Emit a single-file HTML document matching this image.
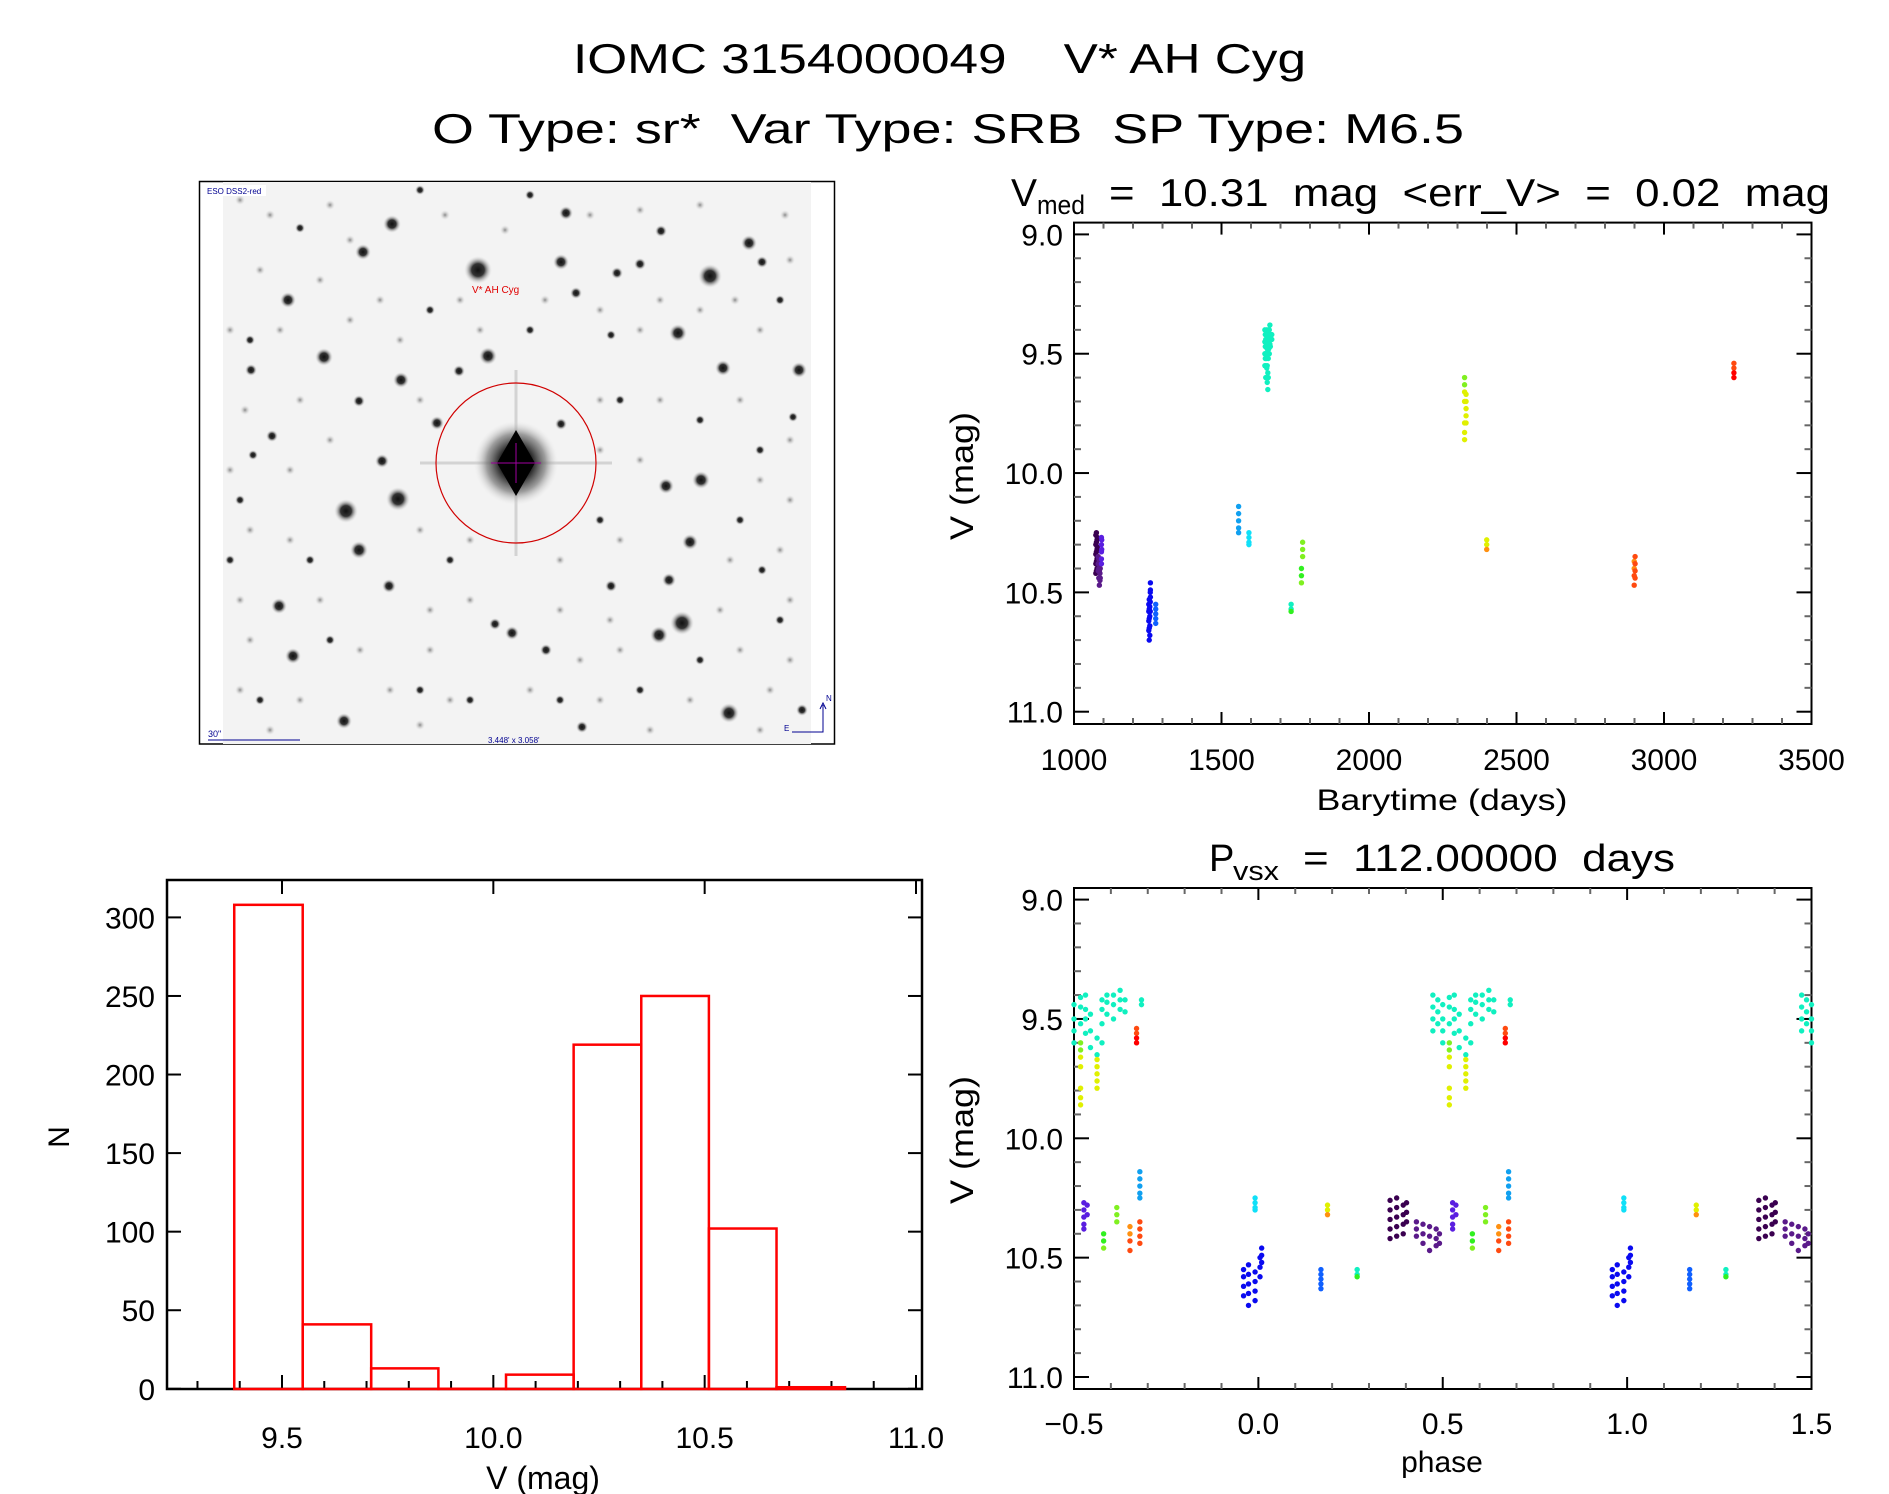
<!DOCTYPE html>
<html><head><meta charset="utf-8"><style>
html,body{margin:0;padding:0;background:#fff;}
svg{display:block;font-family:"Liberation Sans",sans-serif;}
text{white-space:pre;}
</style></head><body>
<svg id="fig" width="1889" height="1494" viewBox="0 0 1889 1494" xmlns="http://www.w3.org/2000/svg" xml:space="preserve">
<defs>
<radialGradient id="star" cx="50%" cy="50%" r="50%"><stop offset="0" stop-color="#111"/><stop offset="0.45" stop-color="#333"/><stop offset="1" stop-color="#ddd" stop-opacity="0"/></radialGradient>
<radialGradient id="faint" cx="50%" cy="50%" r="50%"><stop offset="0" stop-color="#888"/><stop offset="1" stop-color="#ddd" stop-opacity="0"/></radialGradient>
<radialGradient id="bigstar" cx="50%" cy="50%" r="50%"><stop offset="0" stop-color="#000"/><stop offset="0.35" stop-color="#111"/><stop offset="0.7" stop-color="#777" stop-opacity="0.7"/><stop offset="1" stop-color="#ddd" stop-opacity="0"/></radialGradient>
</defs>
<text x="573" y="73" font-size="42" textLength="733" lengthAdjust="spacingAndGlyphs">IOMC 3154000049    V* AH Cyg</text>
<text x="432" y="143" font-size="42" textLength="1032" lengthAdjust="spacingAndGlyphs">O Type: sr*  Var Type: SRB  SP Type: M6.5</text>

<g id="sky">
<rect x="199.5" y="181.5" width="635" height="562.5" fill="#fff" stroke="#000" stroke-width="1.5"/>
<rect x="223" y="182" width="588" height="562" fill="#f3f3f3"/>
</g>

<g id="top"></g>
<g id="bot"></g>
<g id="hist"></g>

<text x="1011" y="206" font-size="39">V</text>
<text x="1037" y="214" font-size="27" textLength="48" lengthAdjust="spacingAndGlyphs">med</text>
<text x="1109" y="206" font-size="39" textLength="721" lengthAdjust="spacingAndGlyphs">=  10.31  mag  &lt;err_V&gt;  =  0.02  mag</text>
<text x="1209" y="871" font-size="38">P</text>
<text x="1233" y="880" font-size="27" textLength="46" lengthAdjust="spacingAndGlyphs">vsx</text>
<text x="1303" y="871" font-size="38" textLength="372" lengthAdjust="spacingAndGlyphs">=  112.00000  days</text>
</svg>
<script>
// ---- Light curve data ----
const clusterColors = ['#3a0050','#5a1a8a','#5a1ee0','#0a0af0','#1060ff','#10a0f0','#10e0f8','#10f0c0','#30f020','#80f020','#e0f000','#ff9010','#ff4a10','#ff0000'];
const obsTime = [1074,1074,1074,1074,1074,1076,1076,1076,1076,1076,1078,1078,1078,1078,1079,1079,1079,
 1082,1082,1082,1084,1084,1084,1086,1086,1086,1088,1088,1088,1089,1089,
 1093,1093,1093,1093,1093,1094,1094,
 1253.5,1253.5,1253.5,1253.5,1255,1255,1255,1255,1255,1257,1257,1257,1257,1258.5,1258.5,1258.5,1259,1259,1259,
 1277,1277,1277,1277,1277,
 1558,1558,1558,1558,1558,
 1593,1593,1593,1593,
 1647,1647,1647,1647,1648.5,1648.5,1648.5,1650,1650,1650,1650,1652,1652,1652,1653.5,1653.5,1653.5,1653.5,1655,1655,1655,1657,1657,1658.5,1658.5,1658.5,1658.5,1660,1660,1660,1662,1662,1662,1664,1664,1664,1665.5,1665.5,1670.5,1670.5,
 1736,1736,1736,
 1771,1771,1771,1775,1775,1775,
 2324,2324,2324,2324,2324,2324,2324,2329,2329,2329,2329,2329,
 2399,2399,2399,
 2899,2899,2899,2899,2902,2902,2902,2902,
 3237,3237,3237,3237];
const obsMag = [10.26,10.30,10.34,10.38,10.42,10.25,10.29,10.33,10.37,10.41,10.28,10.32,10.36,10.40,10.27,10.31,10.35,
 10.35,10.38,10.41,10.36,10.40,10.44,10.37,10.41,10.47,10.38,10.42,10.45,10.40,10.44,
 10.27,10.30,10.33,10.36,10.38,10.28,10.32,
 10.55,10.58,10.62,10.66,10.53,10.57,10.61,10.65,10.70,10.56,10.60,10.64,10.68,10.50,10.54,10.58,10.46,10.49,10.52,
 10.55,10.57,10.59,10.61,10.63,
 10.14,10.17,10.20,10.23,10.25,
 10.25,10.27,10.29,10.30,
 9.40,9.45,9.50,9.55,9.42,9.47,9.52,9.44,9.50,9.55,9.60,9.41,9.45,9.52,9.40,9.46,9.50,9.56,9.48,9.55,9.62,9.58,9.65,9.42,9.46,9.52,9.60,9.40,9.43,9.48,9.40,9.44,9.50,9.38,9.42,9.46,9.42,9.47,9.42,9.44,
 10.55,10.57,10.58,
 10.40,10.43,10.46,10.29,10.32,10.35,
 9.60,9.63,9.66,9.70,9.79,9.83,9.86,9.67,9.70,9.73,9.76,9.79,
 10.28,10.30,10.32,
 10.37,10.40,10.43,10.47,10.35,10.38,10.41,10.44,
 9.54,9.56,9.58,9.60];
const obsCluster = [0,0,0,0,0,0,0,0,0,0,0,0,0,0,0,0,0,
 1,1,1,1,1,1,1,1,1,1,1,1,1,1,
 2,2,2,2,2,2,2,
 3,3,3,3,3,3,3,3,3,3,3,3,3,3,3,3,3,3,3,
 4,4,4,4,4,
 5,5,5,5,5,
 6,6,6,6,
 7,7,7,7,7,7,7,7,7,7,7,7,7,7,7,7,7,7,7,7,7,7,7,7,7,7,7,7,7,7,7,7,7,7,7,7,7,7,7,7,7,7,
 8,8,8,
 9,9,9,9,9,9,
 10,10,10,10,10,10,10,10,10,10,10,10,
 11,11,11,
 12,12,12,12,12,12,12,12,
 13,13,13,13];
const period = 112.0;
const epoch = 1258;
const timeTicks = [1000,1500,2000,2500,3000,3500];
const magTicks = [9.0,9.5,10.0,10.5,11.0];
const phaseTicks = [-0.5,0.0,0.5,1.0,1.5];
// ---- Histogram data ----
const histEdges = [9.387,9.549,9.711,9.870,10.030,10.190,10.350,10.510,10.670,10.832];
const histCounts = [308,41,13,0,9,219,250,102,1];
const histXTicks = [9.5,10.0,10.5,11.0];
const histYTicks = [0,50,100,150,200,250,300];

const NS='http://www.w3.org/2000/svg';
function mk(parent,tag,attrs,txt){const e=document.createElementNS(NS,tag);for(const k in attrs)e.setAttribute(k,attrs[k]);if(txt!==undefined)e.textContent=txt;parent.appendChild(e);return e;}

const L=1074,R=1811.5;
const tx=t=>L+(t-1000)/2500*(R-L);
const ty=m=>234.4+(m-9)/2*(711.7-234.4);
const px=p=>L+(p+0.5)/2*(R-L);
const py=m=>899.6+(m-9)/2*(1377-899.6);
const hx=v=>282+(v-9.5)/1.5*(916-282);
const hy=c=>1388.8-c*(1388.8-917.4)/300;

function frame(g,top,bot,xmin,xmax,xmaj,xmin_step,xf,ymin,ymax,ymin_step,yf,ymaj){
  const r=mk(g,'rect',{x:L,y:top,width:R-L,height:bot-top,fill:'none',stroke:'#000','stroke-width':2});
  
  
  const n=Math.round((xmax-xmin)/xmin_step);
  for(let i=0;i<=n;i++){const v=xmin+i*xmin_step;const X=xf(v);const major=Math.abs((v-xmin)/xmaj-Math.round((v-xmin)/xmaj))<1e-6;const len=major?12:6;
    mk(g,'line',{x1:X,y1:bot,x2:X,y2:bot-len,stroke:major?'#000':'#666','stroke-width':2});
    mk(g,'line',{x1:X,y1:top,x2:X,y2:top+len,stroke:major?'#000':'#666','stroke-width':2});}
  const m=Math.round((ymax-ymin)/ymin_step);
  for(let i=0;i<=m;i++){const v=ymin+i*ymin_step;const Y=yf(v);const major=Math.abs((v-ymin)/ymaj-Math.round((v-ymin)/ymaj))<1e-6;const len=major?15:7;
    mk(g,'line',{x1:L,y1:Y,x2:L+len,y2:Y,stroke:major?'#000':'#666','stroke-width':2});
    mk(g,'line',{x1:R,y1:Y,x2:R-len,y2:Y,stroke:major?'#000':'#666','stroke-width':2});}
}

// ---- Top light curve ----
const gT=document.getElementById('top');
frame(gT,222.6,724,1000,3500,500,100,tx,9,11,0.1,ty,0.5);
timeTicks.forEach(t=>{const e=mk(gT,'text',{x:tx(t),y:770,'font-size':30,'text-anchor':'middle'},String(t));
  
  });
magTicks.forEach(m=>{const e=mk(gT,'text',{x:1063,y:ty(m)+11,'font-size':30,'text-anchor':'end'},m.toFixed(1));
  
  });
let e=mk(gT,'text',{x:1442,y:810,'font-size':30,'text-anchor':'middle',textLength:251,lengthAdjust:'spacingAndGlyphs'},'Barytime (days)');


e=mk(gT,'text',{x:973,y:476,'font-size':32,'text-anchor':'middle',transform:'rotate(-90 973 476)',textLength:128,lengthAdjust:'spacingAndGlyphs'},'V (mag)');


obsTime.forEach((t,i)=>{const c=mk(gT,'circle',{cx:tx(t),cy:ty(obsMag[i]),r:2.7,fill:clusterColors[obsCluster[i]]});
  
  });

// ---- Phase plot ----
const gB=document.getElementById('bot');
frame(gB,888,1389,-0.5,1.5,0.5,0.1,px,9,11,0.1,py,0.5);
phaseTicks.forEach(p=>{const lbl=(p<0?'\u22120.5':p.toFixed(1));const t=mk(gB,'text',{x:px(p),y:1434,'font-size':30,'text-anchor':'middle'},lbl);
  
  });
magTicks.forEach(m=>{const t=mk(gB,'text',{x:1063,y:py(m)+11,'font-size':30,'text-anchor':'end'},m.toFixed(1));
  
  });
e=mk(gB,'text',{x:1442,y:1472,'font-size':30,'text-anchor':'middle'},'phase');


e=mk(gB,'text',{x:973,y:1140,'font-size':32,'text-anchor':'middle',transform:'rotate(-90 973 1140)',textLength:128,lengthAdjust:'spacingAndGlyphs'},'V (mag)');


obsTime.forEach((t,i)=>{let ph=((t-epoch)/period)%1;if(ph<0)ph+=1;
  [ph-1,ph,ph+1].forEach(p=>{if(p<-0.5||p>1.5)return;
    const c=mk(gB,'circle',{cx:px(p),cy:py(obsMag[i]),r:2.7,fill:clusterColors[obsCluster[i]]});
    
    });});

// ---- Histogram ----
const gH=document.getElementById('hist');
const HL=167,HR=922,HT=880,HB=1389;
mk(gH,'rect',{x:HL,y:HT,width:HR-HL,height:HB-HT,fill:'none',stroke:'#000','stroke-width':2.5});
for(let i=0;i<=18;i++){const v=9.2+i*0.1;const X=hx(v);if(X<HL||X>HR)continue;const major=Math.abs(v*2-Math.round(v*2))<1e-6;
  mk(gH,'line',{x1:X,y1:HB,x2:X,y2:HB-(major?14:8),stroke:'#000','stroke-width':2});
  if(major)mk(gH,'line',{x1:X,y1:HT,x2:X,y2:HT+14,stroke:'#000','stroke-width':2});}
histYTicks.forEach(c=>{const Y=hy(c);
  mk(gH,'line',{x1:HL,y1:Y,x2:HL+14,y2:Y,stroke:'#000','stroke-width':2});
  mk(gH,'line',{x1:HR,y1:Y,x2:HR-14,y2:Y,stroke:'#000','stroke-width':2});
  const t=mk(gH,'text',{x:155,y:Y+11,'font-size':30,'text-anchor':'end'},String(c));
  
  });
histXTicks.forEach(v=>{const t=mk(gH,'text',{x:hx(v),y:1448,'font-size':30,'text-anchor':'middle'},v.toFixed(1));
  
  });
histCounts.forEach((c,i)=>{const x0=hx(histEdges[i]),x1=hx(histEdges[i+1]);
  const b=mk(gH,'rect',{x:x0,y:hy(c),width:x1-x0,height:HB-hy(c),fill:'none',stroke:'#ff0000','stroke-width':2.5});
  
  });
e=mk(gH,'text',{x:543,y:1489,'font-size':32,'text-anchor':'middle'},'V (mag)');


e=mk(gH,'text',{x:69,y:1137,'font-size':30,'text-anchor':'middle',transform:'rotate(-90 69 1137)'},'N');



// ---- Sky image (decorative) ----
const sky=document.getElementById('sky');
const faint=[[240,200],[270,215],[330,205],[350,240],[445,215],[505,230],[590,215],[640,210],[700,205],[785,215],[260,270],[320,280],[380,300],[460,300],[545,300],[600,310],[660,300],[735,300],[790,260],[230,330],[280,330],[350,320],[400,340],[480,330],[640,330],[700,310],[760,330],[245,410],[300,400],[420,400],[600,400],[660,400],[740,400],[790,440],[230,470],[290,470],[330,440],[600,450],[640,460],[760,480],[790,500],[250,530],[290,540],[420,530],[470,540],[560,560],[620,540],[730,560],[780,550],[240,600],[320,600],[430,610],[470,600],[560,610],[610,620],[720,610],[790,600],[250,640],[360,650],[430,650],[580,660],[620,650],[740,650],[790,660],[240,690],[300,700],[390,690],[450,700],[530,690],[600,700],[690,700],[770,690],[270,730],[420,725],[650,730],[760,730]];
faint.forEach(s=>{mk(sky,'circle',{cx:s[0],cy:s[1],r:5,fill:'url(#faint)'});});
const stars=[[478,270,14],[392,224,9],[710,276,12],[749,243,8],[561,262,8],[566,213,7],[363,252,8],[288,300,8],[324,357,9],[488,356,9],[401,380,8],[678,333,9],[723,368,8],[799,370,8],[346,511,12],[398,499,12],[382,461,7],[359,550,9],[666,486,8],[701,480,9],[690,542,8],[682,623,12],[659,635,9],[669,580,7],[279,606,8],[293,656,8],[344,721,8],[512,633,7],[495,624,6],[389,586,7],[729,713,10],[582,727,6],[617,273,6],[640,264,6],[576,293,6],[661,231,6],[762,262,6],[251,370,6],[272,436,6],[253,455,5],[561,424,6],[546,650,6],[611,586,6],[762,570,5],[437,423,7],[359,401,6],[459,371,6],[793,417,5],[611,335,5],[802,710,6],[300,228,5],[250,340,5],[430,310,5],[530,330,5],[620,400,5],[700,420,5],[760,450,5],[240,500,5],[310,560,5],[450,560,5],[600,520,5],[740,520,5],[260,700,5],[420,690,5],[470,700,5],[640,690,5],[700,660,5],[780,620,5],[560,700,5],[330,640,5],[230,560,5],[780,300,5],[420,190,5],[530,195,5]];
stars.forEach(s=>{mk(sky,'circle',{cx:s[0],cy:s[1],r:s[2],fill:'url(#star)'});});
mk(sky,'line',{x1:420,y1:463,x2:612,y2:463,stroke:'#777','stroke-width':3,opacity:0.25});
mk(sky,'line',{x1:516,y1:370,x2:516,y2:556,stroke:'#777','stroke-width':3,opacity:0.25});
mk(sky,'circle',{cx:516,cy:463,r:42,fill:'url(#bigstar)'});
mk(sky,'path',{d:'M516 430 L535 463 L516 496 L497 463 Z',fill:'#000'});
mk(sky,'line',{x1:491,y1:463,x2:541,y2:463,stroke:'#a000a0','stroke-width':1});
mk(sky,'line',{x1:516,y1:443,x2:516,y2:483,stroke:'#a000a0','stroke-width':1});
const circ=mk(sky,'circle',{cx:516,cy:463,r:80,fill:'none',stroke:'#d00000','stroke-width':1.2});


mk(sky,'text',{x:472,y:293,'font-size':10,fill:'#e00000'},'V* AH Cyg');
mk(sky,'rect',{x:204,y:185,width:62,height:11,fill:'#fff'});
mk(sky,'text',{x:207,y:194,'font-size':8,fill:'#000090'},'ESO DSS2-red');
mk(sky,'text',{x:208,y:737,'font-size':9,fill:'#000090'},'30"');
mk(sky,'line',{x1:208,y1:740,x2:300,y2:740,stroke:'#000090','stroke-width':1});
mk(sky,'text',{x:488,y:743,'font-size':8,fill:'#000090'},"3.448' x 3.058'");
mk(sky,'path',{d:'M792 732 L823 732 L823 705 M820 709 L823 703 L826 709',fill:'none',stroke:'#000090','stroke-width':1});
mk(sky,'text',{x:826,y:701,'font-size':8,fill:'#000090'},'N');
mk(sky,'text',{x:784,y:731,'font-size':8,fill:'#000090'},'E');
</script>
</body></html>
